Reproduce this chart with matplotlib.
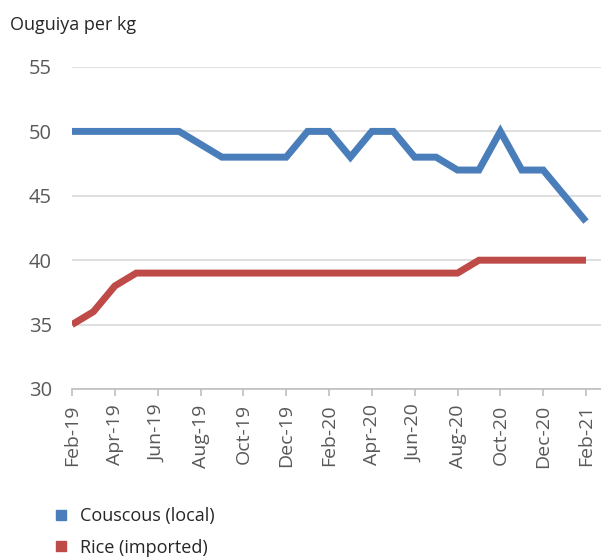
import matplotlib
matplotlib.use("Agg")
import matplotlib.pyplot as plt
from matplotlib.lines import Line2D

months = ["Feb-19", "Mar-19", "Apr-19", "May-19", "Jun-19", "Jul-19", "Aug-19", "Sep-19",
          "Oct-19", "Nov-19", "Dec-19", "Jan-20", "Feb-20", "Mar-20", "Apr-20", "May-20",
          "Jun-20", "Jul-20", "Aug-20", "Sep-20", "Oct-20", "Nov-20", "Dec-20", "Jan-21",
          "Feb-21"]
couscous = [50, 50, 50, 50, 50, 50, 49, 48, 48, 48, 48, 50, 50, 48, 50, 50,
            48, 48, 47, 47, 50, 47, 47, 45, 43]
rice = [35, 36, 38, 39, 39, 39, 39, 39, 39, 39, 39, 39, 39, 39, 39, 39,
        39, 39, 39, 40, 40, 40, 40, 40, 40]
series_names = ["Couscous (local)", "Rice (imported)"]
colors = ["#4A7EBB", "#BE4B48"]
y_ticks = [30, 35, 40, 45, 50, 55]

plt.rcParams['font.family'] = ['Open Sans', 'DejaVu Sans']

fig = plt.figure(figsize=(6.01, 5.6), dpi=100)
ax = fig.add_axes([72/601, 1-389/560, (601-72)/601, (389-67)/560])

x = list(range(len(months)))
ax.plot(x, couscous, color=colors[0], lw=5, solid_joinstyle='miter', solid_capstyle='butt', zorder=3)
ax.plot(x, rice, color=colors[1], lw=5, solid_joinstyle='miter', solid_capstyle='butt', zorder=3)

ax.set_ylim(30, 55)
ax.set_xlim(0, (601-72)/((587-73)/24))
ax.set_yticks(y_ticks)
ax.set_yticklabels([str(v) for v in y_ticks])
ax.grid(axis='y', color='#D9D9D9', lw=1.2)
ax.set_axisbelow(True)
ax.set_xticks(x[::2])
ax.set_xticklabels(months[::2], rotation=90)

for s in ['top', 'right', 'left']:
    ax.spines[s].set_visible(False)
ax.spines['bottom'].set_color('#BFBFBF')
ax.spines['bottom'].set_linewidth(1.2)
ax.tick_params(axis='y', length=0, pad=14.5, labelsize=14.5, labelcolor='#595959')
ax.tick_params(axis='x', length=5, width=1.2, color='#BFBFBF', pad=6, labelsize=14,
               labelcolor='#595959')

fig.text(10/601, 1-25/560, "Ouguiya per kg", fontsize=13, color='#262626', va='center', ha='left')

handles = [Line2D([], [], marker='s', linestyle='none', markersize=7.5, color=c) for c in colors]
fig.legend(handles, series_names, loc='upper left', bbox_to_anchor=(43/601, 1-507/560),
           frameon=False, fontsize=13, labelcolor='#262626', handletextpad=0.05,
           labelspacing=0.75, borderaxespad=0, borderpad=0)

fig.savefig("out.png", dpi=100)
